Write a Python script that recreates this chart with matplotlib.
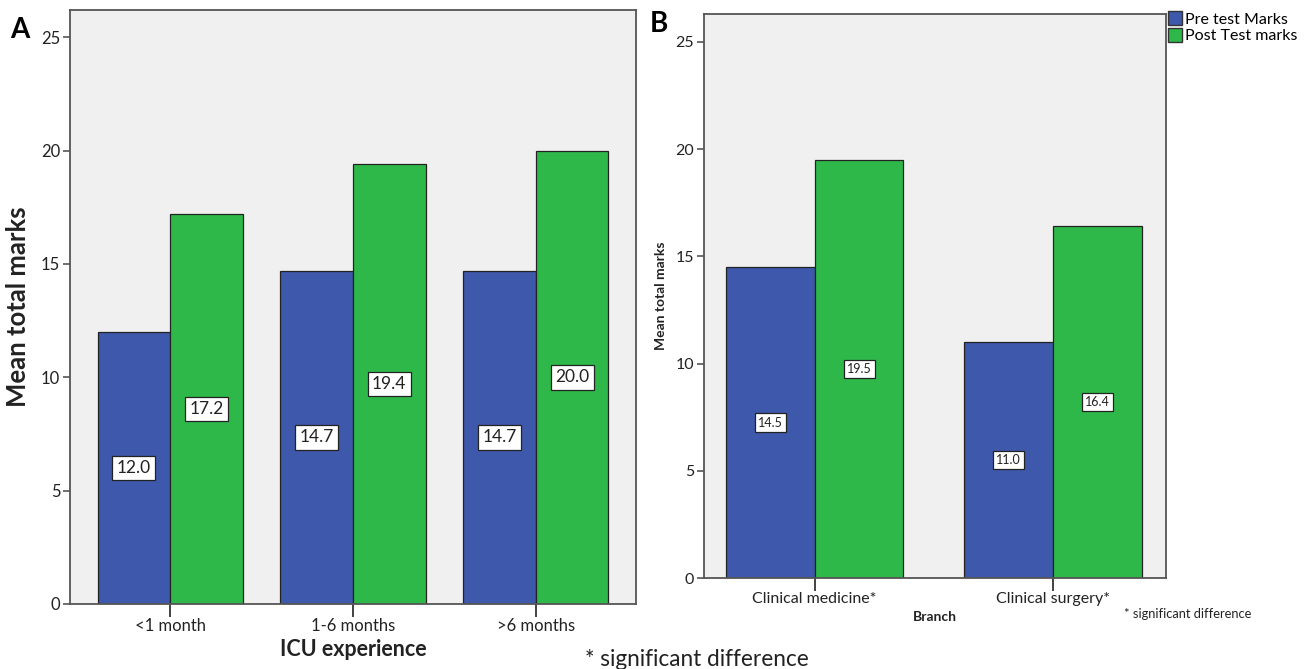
import matplotlib
matplotlib.use("Agg")
import matplotlib.pyplot as plt
import numpy as np
from matplotlib.patches import Patch

plt.rcParams['font.family'] = ['Lato', 'DejaVu Sans']

# Panel A: ICU experience
icu_cats = ["<1 month", "1-6 months", ">6 months"]
icu_pre = [12.0, 14.7, 14.7]
icu_post = [17.2, 19.4, 20.0]

# Panel B: branch
branch_cats = ["Clinical medicine*", "Clinical surgery*"]
branch_pre = [14.5, 11.0]
branch_post = [19.5, 16.4]

series_names = ["Pre test Marks", "Post Test marks"]
yticks = [0, 5, 10, 15, 20, 25]

BLUE = "#3e58ac"
GREEN = "#2eb84a"
BG = "#f0f0f0"

W, H = 1306, 669
fig = plt.figure(figsize=(W / 100, H / 100), dpi=100)


def px_axes(left, top, right, bottom):
    return fig.add_axes([left / W, 1 - bottom / H, (right - left) / W, (bottom - top) / H])


def draw_panel(ax, cats, pre, post, width, xpad, lab_size, tick_size):
    x = np.arange(len(cats))
    ax.set_facecolor(BG)
    b1 = ax.bar(x - width / 2, pre, width, color=BLUE, edgecolor="#222222", linewidth=0.9)
    b2 = ax.bar(x + width / 2, post, width, color=GREEN, edgecolor="#222222", linewidth=0.9)
    for bars, vals in ((b1, pre), (b2, post)):
        for r, v in zip(bars, vals):
            ax.text(r.get_x() + r.get_width() / 2, v / 2, f"{v:.1f}",
                    ha="center", va="center", fontsize=lab_size, color="#222222",
                    bbox=dict(boxstyle="square,pad=0.25", fc="white", ec="#222222", lw=0.9))
    ax.set_xlim(-xpad[0], len(cats) - 1 + xpad[1])
    ax.set_ylim(0, 26.2)
    ax.set_yticks(yticks)
    ax.set_xticks(x)
    ax.set_xticklabels(cats)
    ax.tick_params(axis="both", direction="out", length=5, width=1.2, color="#555555",
                   labelsize=tick_size, labelcolor="#222222", pad=2)
    ax.tick_params(axis="x", length=9, width=1.2, color="#222222", pad=1)
    for s in ax.spines.values():
        s.set_color("#555555")
        s.set_linewidth(1.3)
    return b1, b2


axA = px_axes(70, 10, 636, 604)
draw_panel(axA, icu_cats, icu_pre, icu_post, 0.397, (0.548, 0.548), 12.5, 12)
axA.set_ylabel("Mean total marks", fontsize=18.5, fontweight="bold", color="#222222", labelpad=8)
fig.text(353 / W, 1 - 650 / H, "ICU experience", fontsize=15.5, fontweight="bold",
         color="#222222", ha="center", va="center")

axB = px_axes(704, 14, 1166, 578)
draw_panel(axB, branch_cats, branch_pre, branch_post, 0.372, (0.464, 0.473), 9, 11.5)
axB.set_ylim(0, 26.3)
axB.set_ylabel("Mean total marks", fontsize=10, fontweight="bold", color="#222222", labelpad=6)
axB.set_xlabel("Branch", fontsize=10, fontweight="bold", color="#222222", labelpad=4)

handles = [Patch(facecolor=BLUE, edgecolor="#333333", label=series_names[0]),
           Patch(facecolor=GREEN, edgecolor="#333333", label=series_names[1])]
fig.legend(handles=handles, loc="upper left", bbox_to_anchor=(1165 / W, 1 - 8 / H),
           frameon=False, fontsize=11.5, handlelength=0.85, handleheight=1.0,
           handletextpad=0.2, labelspacing=0.05, borderaxespad=0, borderpad=0.2)

fig.text(10 / W, 1 - 30 / H, "A", fontsize=20, fontweight="bold", ha="left", va="center")
fig.text(650 / W, 1 - 24 / H, "B", fontsize=20, fontweight="bold", ha="left", va="center")
fig.text(585 / W, 1 - 659 / H, "* significant difference", fontsize=16.3, color="#222222",
         ha="left", va="center")
fig.text(1124 / W, 1 - 614 / H, "* significant difference", fontsize=9.3, color="#222222",
         ha="left", va="center")

fig.savefig("out.png", dpi=100, facecolor="white")
